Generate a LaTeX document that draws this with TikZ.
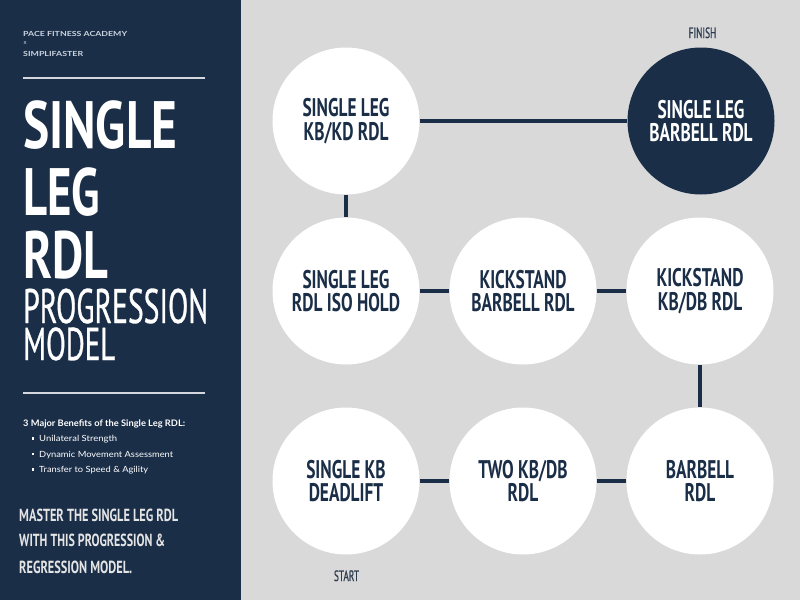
\documentclass[tikz,border=0pt]{standalone}
\usepackage{fontspec}
\usepackage{graphicx}
\setmainfont{Lato}
\newfontfamily\bebB[FakeStretch=0.68]{PT Sans}
\newfontfamily\bebR[FakeStretch=0.62,FakeBold=0.6]{PT Sans}
\newfontfamily\latofont{Lato}
\definecolor{navy}{HTML}{1A2E48}
\definecolor{bggray}{HTML}{D9D9D9}
\definecolor{rulegray}{HTML}{D4D8DE}
\definecolor{hdr}{HTML}{CBD3DE}
\definecolor{mastergray}{HTML}{E4E4E4}
\definecolor{lblgray}{HTML}{2B3A4F}
\newcommand{\fitw}[2]{\resizebox{#1}{\height}{#2}}
\begin{document}
\begin{tikzpicture}[x=1pt,y=-1pt,
  circ/.style={circle, fill=white, minimum size=147pt, inner sep=0pt, align=center,
    text=navy, font=\bebB\bfseries\fontsize{25.5}{23.5}\selectfont},
  circdark/.style={circ, fill=navy, text=white},
  link/.style={draw=navy, line width=3.5pt},
  txt/.style={inner sep=0pt, anchor=base west},
  ttl/.style={txt, text=white},
  endlbl/.style={inner sep=0pt, anchor=base, text=lblgray, font=\bebR\fontsize{15}{15}\selectfont}
]
\useasboundingbox (0,0) rectangle (800,600);
\fill[bggray] (0,0) rectangle (800,600);
\fill[navy] (0,0) rectangle (241,600);

% header
\node[txt, text=hdr] (h1) at (23,36) {\fitw{104pt}{\latofont\bfseries\fontsize{7}{7}\selectfont PACE FITNESS ACADEMY}};
\node[txt, text=hdr] (h2) at (23.5,44.5) {\latofont\fontsize{6}{6}\selectfont x};
\node[txt, text=hdr] (h3) at (23,56) {\fitw{60pt}{\latofont\bfseries\fontsize{7}{7}\selectfont SIMPLIFASTER}};
\draw[rulegray, line width=2.5pt] (23,78) -- (205,78);

% title
\node[ttl] (t1) at (23,148) {\fitw{154pt}{\bebB\bfseries\fontsize{67}{67}\selectfont SINGLE}};
\node[ttl] (t2) at (23,215) {\fitw{77pt}{\bebB\bfseries\fontsize{67}{67}\selectfont LEG}};
\node[ttl] (t3) at (23,278) {\fitw{85pt}{\bebB\bfseries\fontsize{67}{67}\selectfont RDL}};
\node[ttl] (t4) at (23,323) {\fitw{185pt}{\bebR\fontsize{48.5}{48.5}\selectfont PROGRESSION}};
\node[ttl] (t5) at (23,360) {\fitw{92pt}{\bebR\fontsize{46}{46}\selectfont MODEL}};
\draw[rulegray, line width=2.5pt] (23,393) -- (205,393);

% benefits
\node[txt, text=white] (b0) at (23,426) {\fitw{162pt}{\latofont\bfseries\fontsize{9}{9}\selectfont 3 Major Benefits of the Single Leg RDL:}};
\foreach \yy/\ww/\tt [count=\i] in {441.5/78pt/Unilateral Strength, 457/134pt/Dynamic Movement Assessment, 472.5/109pt/Transfer to Speed \& Agility}{
  \fill[white] (31.5,\yy-4.5) rectangle (34,\yy-2);
  \node[txt, text=white] (b\i) at (39,\yy) {\fitw{\ww}{\latofont\fontsize{8.5}{8.5}\selectfont \tt}};
}

% master text
\node[txt, text=mastergray] (m1) at (19,521.7) {\fitw{159pt}{\bebB\bfseries\fontsize{17.5}{17.5}\selectfont MASTER THE SINGLE LEG RDL}};
\node[txt, text=mastergray] (m2) at (19,546.7) {\fitw{146pt}{\bebB\bfseries\fontsize{17.5}{17.5}\selectfont WITH THIS PROGRESSION \&}};
\node[txt, text=mastergray] (m3) at (19,573) {\fitw{113pt}{\bebB\bfseries\fontsize{17.5}{17.5}\selectfont REGRESSION MODEL.}};

% circles
\node[circ] (c1) at (346,121) {SINGLE LEG\\KB/KD RDL};
\node[circdark] (fin) at (701,121) {SINGLE LEG\\BARBELL RDL};
\node[circ] (iso) at (346,291) {SINGLE LEG\\RDL ISO HOLD};
\node[circ] (kbar) at (523,291) {KICKSTAND\\BARBELL RDL};
\node[circ] (kkb) at (700,291) {KICKSTAND\\KB/DB RDL};
\node[circ] (skb) at (346,481) {SINGLE KB\\DEADLIFT};
\node[circ] (two) at (523,481) {TWO KB/DB\\RDL};
\node[circ] (bar) at (700,481) {BARBELL\\RDL};

% connectors
\draw[link] (c1.east) -- (fin.west);
\draw[link] (c1.south) -- (iso.north);
\draw[link] (iso.east) -- (kbar.west);
\draw[link] (kbar.east) -- (kkb.west);
\draw[link] (kkb.south) -- (bar.north);
\draw[link] (skb.east) -- (two.west);
\draw[link] (two.east) -- (bar.west);

% start / finish
\node[endlbl] (finish) at (702.5,38) {FINISH};
\node[endlbl] (start) at (346.5,581) {START};
\end{tikzpicture}
\end{document}
